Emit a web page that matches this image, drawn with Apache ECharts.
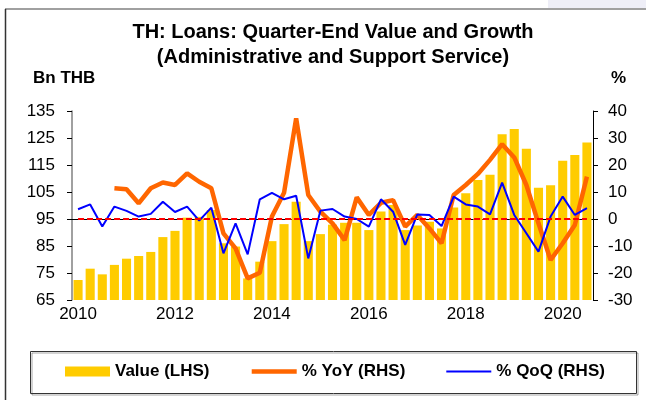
<!DOCTYPE html>
<html>
<head>
<meta charset="utf-8">
<script src="https://cdn.jsdelivr.net/npm/echarts@6/dist/echarts.min.js"></script>
<style>
html, body { margin: 0; padding: 0; background: #fff; }
#main { width: 646px; height: 400px; }
</style>
</head>
<body>
<div id="main"></div>
<script>
// quarter-end data, 2010Q1 .. 2020Q3
var quarters = [
  '2010Q1','2010Q2','2010Q3','2010Q4','2011Q1','2011Q2','2011Q3','2011Q4',
  '2012Q1','2012Q2','2012Q3','2012Q4','2013Q1','2013Q2','2013Q3','2013Q4',
  '2014Q1','2014Q2','2014Q3','2014Q4','2015Q1','2015Q2','2015Q3','2015Q4',
  '2016Q1','2016Q2','2016Q3','2016Q4','2017Q1','2017Q2','2017Q3','2017Q4',
  '2018Q1','2018Q2','2018Q3','2018Q4','2019Q1','2019Q2','2019Q3','2019Q4',
  '2020Q1','2020Q2','2020Q3'
];
var valueLHS = [
  72.4, 76.6, 74.5, 78.0, 80.3, 81.3, 82.8, 88.3,
  90.6, 95.5, 95.8, 98.3, 86.0, 84.8, 73.0, 79.2,
  86.8, 93.1, 101.4, 86.8, 89.4, 92.9, 93.6, 93.6,
  90.9, 97.8, 100.2, 90.9, 92.6, 94.0, 91.5, 99.3,
  104.5, 109.4, 111.4, 126.4, 128.3, 121.0, 106.6, 107.5,
  116.6, 118.7, 123.3
];
var yoyRHS = [
  null, null, null, 11.4, 11.0, 5.8, 11.4, 13.5,
  12.6, 16.9, 13.8, 11.4, -5.3, -10.9, -22.0, -19.9,
  0.9, 9.7, 37.3, 8.9, 2.7, -1.6, -7.8, 8.0,
  1.5, 6.0, 7.0, -2.8, 1.5, -3.5, -9.0, 8.9,
  12.6, 16.7, 21.9, 27.7, 22.8, 12.6, -1.6, -15.2,
  -9.0, -2.2, 15.7
];
var qoqRHS = [
  3.6, 5.4, -2.8, 4.6, 3.0, 0.9, 1.9, 6.4,
  2.6, 4.6, -0.6, 4.2, -12.7, -1.6, -13.1, 7.3,
  9.7, 7.3, 8.6, -14.6, 3.1, 3.7, 0.9, 0.0,
  -2.8, 7.3, 2.7, -9.6, 1.7, 1.5, -2.6, 8.3,
  5.4, 4.6, 1.7, 13.5, 1.5, -5.3, -12.1, 0.9,
  8.3, 1.5, 4.0
];
var seriesNames = ['Value (LHS)', '% YoY (RHS)', '% QoQ (RHS)'];
var lhsTicks = { min: 65, max: 135, step: 10 };
var rhsTicks = { min: -30, max: 40, step: 10 };

var font = 'Liberation Sans, Arial, sans-serif';
var chart = echarts.init(document.getElementById('main'));

chart.setOption({
  animation: false,
  backgroundColor: '#fff',
  title: {
    text: 'TH: Loans: Quarter-End Value and Growth\n(Administrative and Support Service)',
    left: 328,
    textAlign: 'center',
    top: 15,
    textStyle: { fontFamily: font, fontSize: 20, fontWeight: 'bold', color: '#000', lineHeight: 25 }
  },
  grid: { left: 72, right: 53, top: 111, bottom: 100, containLabel: false },
  legend: {
    data: [
      { name: seriesNames[0], icon: 'rect' },
      { name: seriesNames[1], itemStyle: { opacity: 0 }, lineStyle: { width: 4.5 } },
      { name: seriesNames[2], itemStyle: { opacity: 0 }, lineStyle: { width: 2 } }
    ],
    left: 65,
    top: 363,
    padding: 0,
    itemWidth: 45,
    itemHeight: 10,
    itemGap: 40,
    selectedMode: false,
    textStyle: { fontFamily: font, fontSize: 17, fontWeight: 'bold', color: '#000' }
  },
  xAxis: {
    type: 'category',
    data: quarters,
    boundaryGap: true,
    axisLine: { lineStyle: { color: '#000', width: 1 } },
    axisTick: { interval: 3, length: 5, lineStyle: { color: '#000' } },
    axisLabel: {
      interval: 7,
      margin: 6,
      fontFamily: font,
      fontSize: 17,
      color: '#000',
      formatter: function (v) { return v.slice(0, 4); }
    },
    splitLine: { show: false }
  },
  yAxis: [
    {
      type: 'value',
      min: lhsTicks.min, max: lhsTicks.max, interval: lhsTicks.step,
      axisLine: { show: true, lineStyle: { color: '#808080', width: 1.5 } },
      axisTick: { show: true, length: 5, lineStyle: { color: '#000' } },
      axisLabel: { margin: 17, fontFamily: font, fontSize: 17, color: '#000' },
      splitLine: { show: false }
    },
    {
      type: 'value',
      position: 'right',
      min: rhsTicks.min, max: rhsTicks.max, interval: rhsTicks.step,
      axisLine: { show: true, lineStyle: { color: '#000', width: 1 } },
      axisTick: { show: true, length: 5, lineStyle: { color: '#000' } },
      axisLabel: { margin: 15, fontFamily: font, fontSize: 17, color: '#000' },
      splitLine: { show: false }
    }
  ],
  series: [
    {
      name: seriesNames[0],
      type: 'bar',
      yAxisIndex: 0,
      data: valueLHS,
      barCategoryGap: '25%',
      itemStyle: { color: '#FFCC00' },
      z: 2
    },
    {
      name: seriesNames[1],
      type: 'line',
      yAxisIndex: 1,
      data: yoyRHS,
      symbol: 'none',
      connectNulls: false,
      itemStyle: { color: '#FF6600' },
      lineStyle: { color: '#FF6600', width: 4.5 },
      z: 3,
      markLine: {
        silent: true,
        symbol: ['none', 'none'],
        label: { show: false },
        lineStyle: { color: '#FF0000', width: 2, type: [6, 3] },
        data: [[
          { coord: [quarters[0], 0] },
          { coord: [quarters[quarters.length - 1], 0] }
        ]]
      }
    },
    {
      name: seriesNames[2],
      type: 'line',
      yAxisIndex: 1,
      data: qoqRHS,
      symbol: 'none',
      itemStyle: { color: '#0000FF' },
      lineStyle: { color: '#0000FF', width: 2 },
      z: 4
    }
  ],
  graphic: [
    { type: 'rect', shape: { x: 548, y: 0, width: 98, height: 8 }, style: { fill: '#EEEEF7' }, silent: true },
    { type: 'line', shape: { x1: 5, y1: 9, x2: 646, y2: 9 }, style: { stroke: '#A0A0A0', lineWidth: 2 }, silent: true },
    { type: 'line', shape: { x1: 5.5, y1: 9, x2: 5.5, y2: 400 }, style: { stroke: '#333', lineWidth: 1.5 }, silent: true },
    {
      type: 'text', left: 33, top: 70, silent: true,
      style: { text: 'Bn THB', font: 'bold 17px ' + font, fill: '#000' }
    },
    {
      type: 'text', left: 611, top: 70, silent: true,
      style: { text: '%', font: 'bold 17px ' + font, fill: '#000' }
    },
    {
      type: 'rect', silent: true,
      shape: { x: 30.5, y: 351.5, width: 606, height: 42 },
      style: {
        fill: 'none', stroke: '#333', lineWidth: 1,
        shadowColor: 'rgba(0,0,0,0.35)', shadowOffsetX: 1.5, shadowOffsetY: 1.5, shadowBlur: 0
      }
    }
  ]
});
</script>
</body>
</html>
